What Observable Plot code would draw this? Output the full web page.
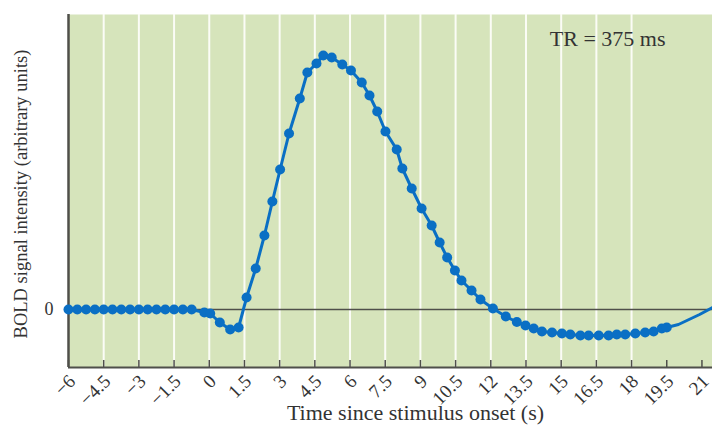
<!DOCTYPE html>
<html>
<head>
<meta charset="utf-8">
<script src="https://cdn.jsdelivr.net/npm/d3@7"></script>
<script src="https://cdn.jsdelivr.net/npm/@observablehq/plot@0.6"></script>
<style>
  html, body { margin: 0; padding: 0; background: #fff; }
  #chart svg { display: block; }
</style>
</head>
<body>
<div id="chart"></div>
<script>
// Sampled BOLD response (TR = 375 ms): time (s) and signal (arbitrary units)
const sampleTime = [
  -6, -5.625, -5.25, -4.875, -4.5, -4.125, -3.75, -3.375, -3, -2.625, -2.25, -1.875, -1.5, -1.125, -0.75,
  -0.21, 0.04, 0.45, 0.89, 1.25, 1.59, 1.98, 2.35, 2.69, 3.02, 3.40, 3.86, 4.18, 4.57, 4.86,
  5.22, 5.67, 6.04, 6.50, 6.83, 7.16, 7.51, 7.99, 8.23, 8.63, 9.05, 9.48, 9.82, 10.14, 10.47,
  10.75, 11.18, 11.56, 12.09, 12.64, 13.11, 13.48, 13.83, 14.18, 14.61, 15.03, 15.39, 15.82, 16.17,
  16.60, 17.02, 17.37, 17.73, 18.16, 18.58, 18.94, 19.29, 19.50
];
const sampleSignal = [
  0, 0, 0, 0, 0, 0, 0, 0, 0, 0, 0, 0, 0, 0, 0,
  -0.03, -0.04, -0.13, -0.20, -0.18, 0.12, 0.41, 0.74, 1.08, 1.40, 1.76, 2.11, 2.37, 2.46, 2.54,
  2.52, 2.45, 2.39, 2.27, 2.14, 1.98, 1.78, 1.60, 1.41, 1.21, 1.01, 0.84, 0.67, 0.52, 0.39,
  0.29, 0.19, 0.10, 0.01, -0.07, -0.125, -0.16, -0.19, -0.22, -0.23, -0.24, -0.25, -0.26, -0.26,
  -0.26, -0.26, -0.25, -0.25, -0.24, -0.23, -0.22, -0.19, -0.18
];
// Continuation of the curve after the last sample (line only, no dots)
const tailTime = [19.50, 20.0, 20.45, 20.9, 21.45];
const tailSignal = [-0.18, -0.15, -0.10, -0.05, 0.02];

// Axis ticks
const xTicks = [-6, -4.5, -3, -1.5, 0, 1.5, 3, 4.5, 6, 7.5, 9, 10.5, 12, 13.5, 15, 16.5, 18, 19.5, 21];
const xTickLabels = ["−6", "−4.5", "−3", "−1.5", "0", "1.5", "3", "4.5", "6", "7.5", "9", "10.5", "12", "13.5", "15", "16.5", "18", "19.5", "21"];
const gridLines = [-4.5, -3, -1.5, 0, 1.5, 3, 4.5, 6, 7.5, 9, 10.5, 12, 13.5, 15, 16.5, 18];
const yTicks = [0];
const yTickLabels = ["0"];

const xTitle = "Time since stimulus onset (s)";
const yTitle = "BOLD signal intensity (arbitrary units)";
const note = "TR = 375 ms";

const xDomain = [-6, 21.45];
const yDomain = [-0.58, 2.95];

const samples = sampleTime.map((t, i) => ({t, v: sampleSignal[i]}));
const curve = samples.concat(tailTime.slice(1).map((t, i) => ({t, v: tailSignal[i + 1]})));

const serif = "'Liberation Serif', 'DejaVu Serif', serif";
const blue = "#0a6fc4";
const axisColor = "#4f4f4a";
const textColor = "#333333";

const chart = Plot.plot({
  width: 712,
  height: 425,
  marginLeft: 68,
  marginRight: 0,
  marginTop: 14,
  marginBottom: 58,
  style: {fontFamily: serif, background: "#fff"},
  x: {domain: xDomain, axis: null},
  y: {domain: yDomain, axis: null},
  marks: [
    Plot.frame({fill: "#d6e4bb", stroke: null}),
    Plot.ruleX(gridLines, {stroke: "#fbfcf6", strokeWidth: 2}),
    Plot.ruleY(yTicks, {stroke: axisColor, strokeWidth: 1.5}),
    Plot.ruleX(xTicks, {stroke: axisColor, strokeWidth: 1.5, insetTop: 346}),
    Plot.ruleX([xDomain[0]], {stroke: axisColor, strokeWidth: 2.5}),
    Plot.ruleY([yDomain[0]], {stroke: axisColor, strokeWidth: 2}),
    Plot.line(curve, {x: "t", y: "v", stroke: blue, strokeWidth: 3}),
    Plot.dot(samples, {x: "t", y: "v", r: 5, fill: blue, stroke: null}),
    Plot.text(xTicks, {
      x: d => d, text: (d, i) => xTickLabels[i], frameAnchor: "bottom",
      dx: 8, dy: 15, rotate: -45, textAnchor: "end", lineAnchor: "bottom",
      fontSize: "19px", fill: textColor
    }),
    Plot.text(yTicks, {
      y: d => d, text: (d, i) => yTickLabels[i], frameAnchor: "left",
      dx: -15, textAnchor: "end", fontSize: "18px", fill: textColor
    }),
    Plot.text([note], {
      text: d => d, frameAnchor: "top-right", dx: -47, dy: 31,
      textAnchor: "end", lineAnchor: "bottom", fontSize: "22px", fill: textColor
    }),
    Plot.text([xTitle], {
      text: d => d, frameAnchor: "bottom", dx: 25, dy: 52,
      textAnchor: "middle", lineAnchor: "bottom", fontSize: "22px", fill: textColor
    }),
    Plot.text([yTitle], {
      text: d => d, frameAnchor: "left", dx: -42, dy: 3, rotate: -90,
      textAnchor: "middle", lineAnchor: "bottom", fontSize: "18.5px", fill: textColor
    })
  ]
});

document.getElementById("chart").appendChild(chart);
</script>
</body>
</html>
